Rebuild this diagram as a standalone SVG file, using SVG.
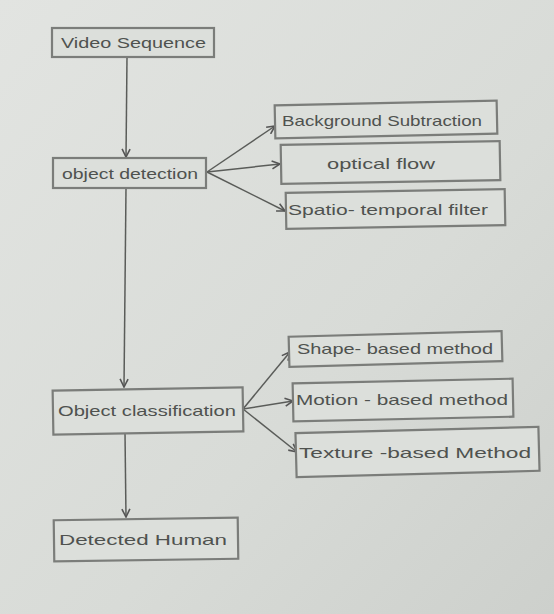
<svg xmlns="http://www.w3.org/2000/svg" width="554" height="614" viewBox="0 0 554 614">
<defs>
<linearGradient id="paper" x1="0" y1="0" x2="1" y2="1">
<stop offset="0" stop-color="#e2e4e1"/>
<stop offset="0.6" stop-color="#d8dbd7"/>
<stop offset="1" stop-color="#cdd0cc"/>
</linearGradient>
<marker id="ah" markerWidth="10" markerHeight="10" refX="9" refY="5" orient="auto" markerUnits="userSpaceOnUse">
<path d="M1,1 L9,5 L1,9" fill="none" stroke="#555" stroke-width="1.6"/>
</marker>
<style>
.box{fill:#dcdfdb;stroke:#7b7d7a;stroke-width:2.2}
.lbl{font-family:"Liberation Sans",Arial,sans-serif;font-size:15px;fill:#4f524f}
.con{stroke:#5a5c59;stroke-width:1.5;fill:none}
</style>
</defs>
<rect x="0" y="0" width="554" height="614" fill="url(#paper)"/>
<g id="connectors">
<line class="con" x1="127" y1="57" x2="126" y2="157" marker-end="url(#ah)"/>
<line class="con" x1="207" y1="172" x2="275" y2="126" marker-end="url(#ah)"/>
<line class="con" x1="207" y1="172" x2="280" y2="164" marker-end="url(#ah)"/>
<line class="con" x1="207" y1="172" x2="285" y2="211" marker-end="url(#ah)"/>
<line class="con" x1="126" y1="188" x2="124" y2="387" marker-end="url(#ah)"/>
<line class="con" x1="243" y1="409" x2="290" y2="352" marker-end="url(#ah)"/>
<line class="con" x1="243" y1="409" x2="293" y2="401" marker-end="url(#ah)"/>
<line class="con" x1="243" y1="409" x2="297" y2="452" marker-end="url(#ah)"/>
<line class="con" x1="125" y1="433" x2="126" y2="517" marker-end="url(#ah)"/>
</g>
<g id="video-sequence">
<rect class="box" x="52" y="28" width="162" height="29"/>
<text class="lbl" x="61" y="48" textLength="145" lengthAdjust="spacingAndGlyphs">Video Sequence</text>
</g>
<g id="object-detection">
<rect class="box" x="53" y="158" width="153" height="30"/>
<text class="lbl" x="62" y="179" textLength="136" lengthAdjust="spacingAndGlyphs">object detection</text>
</g>
<g id="background-subtraction">
<rect class="box" x="275" y="103" width="222" height="33" transform="rotate(-1.2 386 120)"/>
<text class="lbl" x="282" y="126" textLength="200" lengthAdjust="spacingAndGlyphs">Background Subtraction</text>
</g>
<g id="optical-flow">
<rect class="box" x="281" y="143" width="219" height="39" transform="rotate(-1 390 162)"/>
<text class="lbl" x="327" y="169" textLength="108" lengthAdjust="spacingAndGlyphs">optical flow</text>
</g>
<g id="spatio-temporal-filter">
<rect class="box" x="286" y="191" width="219" height="36" transform="rotate(-1 395 209)"/>
<text class="lbl" x="288" y="215" textLength="200" lengthAdjust="spacingAndGlyphs">Spatio- temporal filter</text>
</g>
<g id="object-classification">
<rect class="box" x="53" y="389" width="190" height="44" transform="rotate(-1 148 411)"/>
<text class="lbl" x="58" y="416" textLength="178" lengthAdjust="spacingAndGlyphs">Object classification</text>
</g>
<g id="shape-based">
<rect class="box" x="289" y="334" width="213" height="30" transform="rotate(-1.5 395 349)"/>
<text class="lbl" x="297" y="354" textLength="196" lengthAdjust="spacingAndGlyphs">Shape- based method</text>
</g>
<g id="motion-based">
<rect class="box" x="293" y="381" width="220" height="38" transform="rotate(-1.2 403 400)"/>
<text class="lbl" x="296" y="405" textLength="212" lengthAdjust="spacingAndGlyphs">Motion - based method</text>
</g>
<g id="texture-based">
<rect class="box" x="296" y="430" width="243" height="44" transform="rotate(-1.5 417 452)"/>
<text class="lbl" x="299" y="458" textLength="232" lengthAdjust="spacingAndGlyphs">Texture -based Method</text>
</g>
<g id="detected-human">
<rect class="box" x="54" y="519" width="184" height="41" transform="rotate(-0.8 146 540)"/>
<text class="lbl" x="59" y="545" textLength="168" lengthAdjust="spacingAndGlyphs">Detected Human</text>
</g>
</svg>
